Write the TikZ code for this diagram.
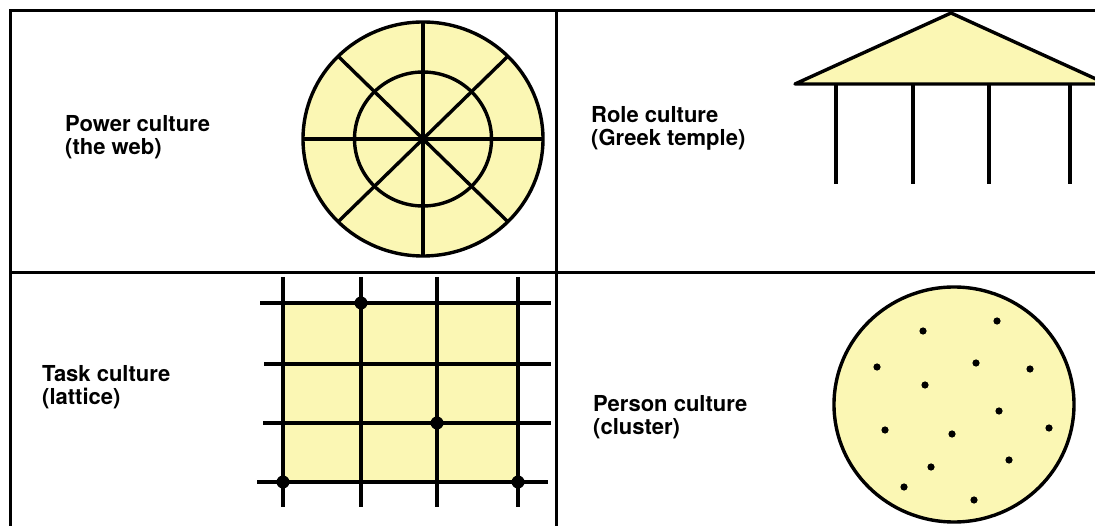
\documentclass[tikz,border=0pt]{standalone}
\usepackage{fontspec}
\setmainfont{TeX Gyre Heros}
\definecolor{paleyellow}{RGB}{251,247,180}
\tikzset{
  culture/.style={anchor=base west, align=left, inner sep=0pt,
    font=\fontsize{22}{23}\selectfont\bfseries},
  ink/.style={line width=3.4pt},
  rule/.style={line width=3pt},
}
\begin{document}
\begin{tikzpicture}[x=1pt, y=-1pt]
  \useasboundingbox (0,0) rectangle (1095,526);
  % table rules
  \draw[rule] (10,526) -- (10,11) -- (1095,11);
  \draw[rule] (10,273) -- (1095,273);
  \draw[rule] (556,11) -- (556,526);
  % power culture: the web
  \node[culture] (power) at (65,155) {Power culture\\(the web)};
  \begin{scope}[shift={(423,139)}]
    \filldraw[ink, fill=paleyellow] (0,0) ellipse [x radius=120, y radius=117];
    \draw[ink] (0,0) ellipse [x radius=68.5, y radius=67];
    \foreach \a in {0,45,...,315}
      \draw[ink] (0,0) -- ({120*cos(\a)},{117*sin(\a)});
    \fill (0,0) circle (4);
  \end{scope}
  % role culture: the temple
  \node[culture] (role) at (591,146) {Role culture\\(Greek temple)};
  \filldraw[ink, fill=paleyellow, line join=round] (795,84) -- (951,13) -- (1107,84) -- cycle;
  \foreach \x in {836,913,989,1070}
    \draw[ink] (\x,84) -- (\x,184);
  % task culture: the lattice
  \node[culture] (task) at (42,405) {Task culture\\(lattice)};
  \fill[paleyellow, rounded corners=4] (283,303) rectangle (518,482);
  \foreach \x in {283,361,437,518}
    \draw[ink] (\x,277) -- (\x,507);
  \foreach \y/\l/\r in {303/260/551, 364/264/551, 423/263/551, 482/257/548}
    \draw[ink] (\l,\y) -- (\r,\y);
  \foreach \p in {(361,303),(437,423),(283,482),(518,482)}
    \fill \p circle (6.5);
  % person culture: the cluster
  \node[culture] (person) at (593,434) {Person culture\\(cluster)};
  \filldraw[ink, fill=paleyellow] (954,404.5) ellipse [x radius=120, y radius=117.5];
  \foreach \p in {(997,321),(923,331),(877,367),(976,363),(1030,369),(925,385),(999,411),
                  (885,430),(952,434),(1049,428),(1009,460),(931,467),(904,487),(974,500)}
    \fill \p circle (3.6);
\end{tikzpicture}
\end{document}
